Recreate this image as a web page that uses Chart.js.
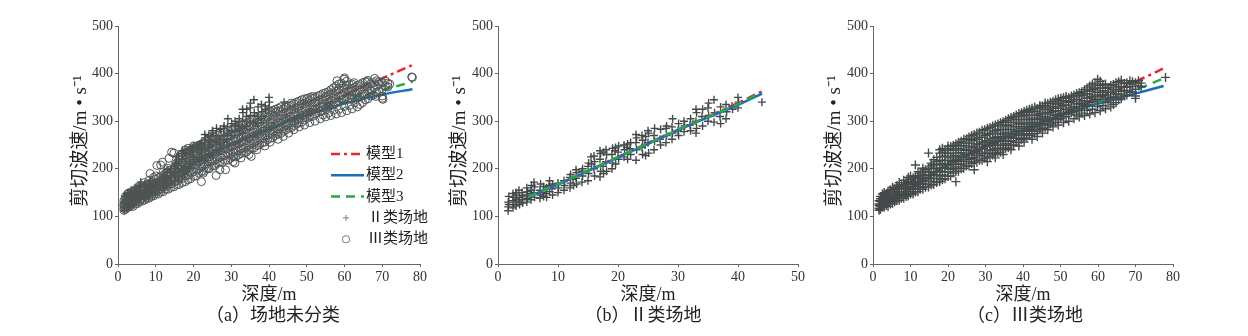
<!DOCTYPE html>
<html><head><meta charset="utf-8">
<script src="https://cdn.jsdelivr.net/npm/chart.js@4.4.1/dist/chart.umd.min.js"></script>
<style>
body{margin:0;background:#fff;width:1248px;height:336px;overflow:hidden;position:relative}
.p{position:absolute;top:0;height:336px}
</style></head><body>
<div class="p" style="left:0;width:440px"><canvas id="ca"></canvas></div>
<div class="p" style="left:440px;width:380px"><canvas id="cb"></canvas></div>
<div class="p" style="left:820px;width:428px"><canvas id="cc"></canvas></div>
<script>
// ---------- data ----------
const xTicksAC = [0,10,20,30,40,50,60,70,80];
const xTicksB = [0,10,20,30,40,50];
const yTicks = [0,100,200,300,400,500];

// model curves, panel (a)
const modelDepthA = [1.5,5,10,20,30,40,50,60,70,78];
const model1A = [145,158,177,212,247,282,318,354,390,418];
const model2A = [118,140,165,210,250,284,313,337,356,367];
const model3A = [120,143,168,212,252,287,318,342,365,383];
// model curves, panel (b)
const modelDepthB = [5,10,15,20,25,30,35,40,44];
const model1B = [141,168,196,225,254,282,310,338,363];
const model2B = [141,167,195,224,252,281,308,334,358];
const model3B = [141,168,196,225,253,282,309,336,361];
// model curves, panel (c)
const modelDepthC = [2,10,20,30,40,50,60,70,77.5];
const model1C = [146,174,208,243,277,313,348,383,411];
const model2C = [120,158,208,248,282,312,337,358,374];
const model3C = [122,160,210,250,285,316,341,366,390];

// site class II measurements [depth, Vs]
const siteII = [
[1.7,112],[1.7,120],[1.8,125],[1.7,130],[1.8,142],
[2.5,118],[2.6,125],[2.5,133],[2.6,140],[2.5,148],
[3.0,122],[3.1,130],[3.0,136],[3.1,145],[3.0,150],
[3.6,125],[3.5,132],[3.6,140],[3.5,155],
[4.1,128],[4.0,135],[4.1,143],[4.0,150],
[4.8,130],[4.9,138],[4.8,145],[4.9,152],[4.8,160],
[5.5,135],[5.6,148],[5.5,155],[5.6,165],
[6.1,140],[6.0,150],[6.1,162],[6.0,172],
[7.0,138],[7.1,145],[7.0,155],[7.1,168],
[7.6,142],[7.5,150],[7.6,163],
[8.1,140],[8.0,148],[8.1,160],
[8.6,152],[8.5,165],[8.6,175],
[9.1,145],[9.0,158],[9.1,168],
[10.0,150],[10.1,160],[10.0,170],
[11.0,155],[11.1,165],[11.0,175],
[12.0,160],[12.1,170],[12.0,182],[12.1,188],
[12.6,165],[12.5,178],
[13.1,168],[13.0,180],[13.1,192],[13.0,198],
[14.0,172],[14.1,185],[14.0,195],[14.1,200],
[15.0,175],[15.1,190],[15.0,205],[15.1,212],
[15.6,210],[15.5,225],
[16.1,185],[16.0,200],[16.1,215],[16.0,227],
[17.0,183],[17.1,195],[17.0,220],[17.1,232],[17.0,238],
[17.6,190],[17.5,205],[17.6,235],
[18.1,195],[18.0,215],[18.1,230],[18.0,240],
[19.0,200],[19.1,212],[19.0,230],[19.1,243],
[19.6,210],[19.5,238],[19.6,245],
[20.1,220],[20.0,235],[20.1,248],
[21.0,225],[21.1,240],[21.0,250],
[21.6,220],[21.5,245],[21.6,252],
[22.1,230],[22.0,242],[22.1,255],
[23.0,218],[23.1,240],[23.0,255],[23.1,265],[23.0,272],
[24.1,230],[24.0,245],[24.1,260],[24.0,270],
[24.6,228],[24.5,250],[24.6,268],
[25.1,233],[25.0,255],[25.1,275],[25.0,280],
[26.0,240],[26.1,258],[26.0,270],[26.1,285],
[27.1,250],[27.0,262],[27.1,283],
[28.0,255],[28.1,270],[28.0,285],[28.1,290],
[29.0,262],[29.1,275],[29.0,288],[29.1,305],
[30.1,270],[30.0,280],[30.1,295],
[31.0,278],[31.1,290],[31.0,300],
[32.1,280],[32.0,292],[32.1,305],
[33.0,275],[33.1,285],[33.0,300],[33.1,318],[33.0,325],
[34.1,290],[34.0,310],[34.1,325],
[35.0,300],[35.1,312],[35.0,328],[35.1,338],
[36.0,298],[36.1,318],[36.0,345],
[37.1,295],[37.0,310],[37.1,330],
[38.0,305],[38.1,320],[38.0,335],
[39.1,325],[39.0,332],
[40.0,328],[40.1,340],[40.0,350],
[44.0,340]
];

// site class III measurements: [depth, Vs, Vs, ...]
const siteIIIColumns = [
[1.6,113,117,123,126,133],
[2.0,115,121,124,131,137,142],
[2.5,119,122,129,134,138,147],
[3.0,120,127,130,138,144,150],
[3.5,123,127,135,141,146],
[4.0,121,128,132,140,146,153],
[4.6,126,130,138,142,151,156],
[5.2,127,135,141,146,156,161],
[5.8,131,136,145,150,159],
[6.4,133,138,147,152,161,165],
[7.0,134,143,148,157,162,171],
[7.6,138,143,152,157,166],
[8.2,138,147,152,161,167,176],
[8.8,142,148,157,162,171],
[9.4,143,152,157,167,173,182],
[10.0,147,152,162,168,178,185],
[10.7,147,157,163,171,181],
[11.3,151,157,167,174,184,208],
[12.0,152,162,168,179,186,194],
[12.6,157,163,173,180,191],
[13.3,157,168,175,186,194,201],
[14.0,161,168,179,187,198],
[14.8,162,173,181,193,201,233],
[15.5,166,174,186,194,206,212],
[16.2,167,179,188,200,209,219],
[17.0,171,180,193,202,215,224],
[17.8,173,185,195,208,218,233,240],
[18.5,177,187,201,211,225,235,243],
[19.2,179,193,203,217,227,239],
[20.0,184,194,208,218,232,242,248],
[20.7,185,199,209,223,233,247],
[21.4,191,201,215,225,239,249],
[22.1,173,194,204,218,228,242,252],
[22.8,195,209,219,233,243,255],
[23.5,200,210,224,234,248,258],
[24.2,201,215,225,239,249,262],
[24.9,206,216,230,240,254,263],
[25.6,206,220,230,244,254,267],
[26.3,211,221,235,245,259,270],
[27.0,198,214,224,238,248,262,272],
[27.7,214,228,238,252,262,275],
[28.4,218,228,242,252,266,277],
[29.1,218,232,242,256,266,281],
[29.8,222,232,246,256,270,282],
[30.5,215,225,235,249,259,273,285],
[31.2,225,239,249,263,273,287],
[31.9,229,239,253,263,277,290],
[32.6,223,232,242,256,266,280,292],
[33.3,234,244,258,268,282,294],
[34.0,235,249,259,273,283,297],
[34.7,230,240,250,264,274,288,299],
[35.4,243,253,267,277,291,302],
[36.1,244,258,268,282,292,305],
[36.8,240,249,259,273,283,297,308],
[37.5,250,264,274,288,298,310],
[38.2,255,265,279,289,303,313],
[38.9,248,256,270,280,294,304,316],
[39.6,261,271,285,295,309,318],
[40.3,256,264,274,288,298,312,321],
[41.0,265,279,289,303,313,323],
[41.7,270,280,294,304,318,325],
[42.4,262,273,283,297,307,321,327],
[43.1,274,288,298,312,321,330],
[43.8,268,279,289,303,313,326],
[44.5,282,292,306,316,329,333],
[45.2,275,285,295,309,319,332],
[45.9,286,300,310,324,333,338],
[46.6,282,291,301,315,325,337],
[47.3,294,304,318,328,340],
[48.0,288,297,307,321,331,342],
[48.7,298,312,322,336,345],
[49.4,292,303,313,327,337,347],
[50.1,306,316,330,340,348],
[50.8,297,309,319,333,343,350],
[51.5,310,324,334,348,352],
[52.2,300,315,325,339,350],
[52.9,318,328,342,353],
[53.6,305,321,331,345,355],
[54.3,313,322,336,346,358],
[55.0,309,327,337,351,360],
[55.7,317,330,340,354,362],
[56.4,312,333,343,357,366],
[57.1,323,334,348,358,370],
[57.8,315,339,349,363,374],
[58.5,325,342,352,366,378],
[59.2,318,345,355,369,380],
[59.9,331,346,360,370,388],
[60.6,322,351,361,375,384],
[61.3,333,354,364,377],
[62.0,326,346,355,369,378],
[62.7,339,349,360,371],
[63.4,330,349,361,375],
[64.1,335,351,366,377],
[64.8,339,357,367,381],
[65.5,345,357,372,383],
[66.2,347,363,373,386],
[67.0,353,365,379],
[67.7,355,371,381],
[68.5,361,373,385],
[69.2,362,378,383],
[70.0,348,353,367,381],
[70.8,374,385],
[71.5,372,380],
[78.0,392]
];

// extra class III points visible only in the unclassified panel (a)
const siteIIIExtraA = [
[8.5,190],[10.3,207],[11.8,214],[13.5,222],[14.2,235],[16.5,228],[19.0,232],
[22.6,191],[24.0,200],[26.0,186],[28.5,198],[35.3,226],[31.0,212],
[58.0,385],[60.0,391],[62.5,381],[66.0,383],[68.0,390],[70.2,346],[68.3,352],[72.0,378],[77.8,393]
];

// ---------- helpers ----------
const pts = arr => arr.map(p => ({x:p[0], y:p[1]}));
const colPts = cols => { const o=[]; cols.forEach(c => { for (let i=1;i<c.length;i++) o.push({x:c[0], y:c[i]}); }); return o; };
const curve = (d, v) => d.map((x,i) => ({x, y:v[i]}));

const RED='#e8262b', BLUE='#1c6ebd', GREEN='#24a84a', PT='#444a4a', CIRC='#4f5555';
const DASH1=[9,4,3,4], DASH3=[9,6];
const SERIF='"Liberation Serif","Times New Roman",serif';
const CJK='"Liberation Serif","Noto Sans CJK SC",serif';

function lineDs(label, data, color, dash, order){
  return {type:'line', label, data, borderColor:color, borderWidth:2.5, borderDash:dash,
    pointRadius:0, fill:false, tension:0.3, order};
}
function plusDs(label, data, order, r){
  return {type:'scatter', label, data, pointStyle:'cross', pointRadius:r||4, borderColor:PT,
    borderWidth:1.4, backgroundColor:PT, order};
}
function circDs(label, data, order){
  return {type:'scatter', label, data, pointStyle:'circle', pointRadius:4, borderColor:CIRC,
    borderWidth:1, backgroundColor:'rgba(0,0,0,0)', order};
}

const deco = {
  id:'deco',
  afterDraw(chart, args, o){
    const ctx = chart.ctx, ca = chart.chartArea;
    ctx.save();
    ctx.fillStyle='#222';
    // y title
    ctx.save();
    ctx.translate(o.yTitleX, (ca.top+ca.bottom)/2 - 4);
    ctx.rotate(-Math.PI/2);
    ctx.font = '19px '+CJK;
    ctx.textAlign='center'; ctx.textBaseline='middle';
    ctx.fillText('剪切波速/m • s⁻¹', 0, 0);
    ctx.restore();
    // x title and caption
    ctx.font='18px '+CJK; ctx.textAlign='center'; ctx.textBaseline='middle';
    ctx.fillText('深度/m', (ca.left+ca.right)/2, 295);
    ctx.fillText(o.caption, (ca.left+ca.right)/2 + o.capDx, 316);
    // legend
    ctx.font='15px '+CJK; ctx.textAlign='left';
    o.legend.forEach((r,i) => {
      const y = o.legY + i*21.3;
      const x0 = o.legX;
      if (r.kind==='line'){
        ctx.save(); ctx.strokeStyle=r.color; ctx.lineWidth=2.5; ctx.setLineDash(r.dash||[]);
        ctx.beginPath(); ctx.moveTo(x0, y); ctx.lineTo(x0+33, y); ctx.stroke(); ctx.restore();
        ctx.fillText(r.text, x0+35, y);
      } else {
        ctx.save(); ctx.strokeStyle='#8a8f8f'; ctx.lineWidth=1.1;
        const cx = x0+15;
        ctx.beginPath();
        if (r.kind==='plus'){ ctx.moveTo(cx-3,y); ctx.lineTo(cx+3,y); ctx.moveTo(cx,y-3); ctx.lineTo(cx,y+3); }
        else { ctx.arc(cx, y, 3.5, 0, Math.PI*2); }
        ctx.stroke(); ctx.restore();
        ctx.fillText(r.text, x0+37, y);
      }
    });
    ctx.restore();
  }
};

function scales(xmax, xticks){
  const common = {
    grid:{drawOnChartArea:false, drawTicks:true, tickLength:3, color:'#666', lineWidth:1},
    border:{display:true, color:'#666', width:1},
  };
  return {
    x:{type:'linear', min:0, max:xmax, ...common,
      afterBuildTicks: s => { s.ticks = xticks.map(v=>({value:v})); },
      ticks:{font:{family:SERIF, size:14}, color:'#333', padding:2, maxRotation:0, autoSkip:false},
      afterFit: s => { s.height = 72; s.paddingLeft=0; s.paddingRight=0; s.paddingTop=0; s.paddingBottom=0; }
    },
    y:{type:'linear', min:0, max:500, ...common,
      afterBuildTicks: s => { s.ticks = yTicks.map(v=>({value:v})); },
      ticks:{font:{family:SERIF, size:14}, color:'#333', padding:2, autoSkip:false},
      afterFit: s => { s.width = 40; s.paddingTop=0; s.paddingBottom=0; s.paddingLeft=0; s.paddingRight=0; }
    }
  };
}

function make(id, datasets, xmax, xticks, padL, padR, decoOpts){
  new Chart(document.getElementById(id), {
    type:'scatter',
    data:{datasets},
    options:{
      responsive:true, maintainAspectRatio:false, animation:false, devicePixelRatio:1,
      layout:{padding:{left:padL, right:padR, top:26, bottom:0}},
      plugins:{legend:{display:false}, tooltip:{enabled:false}, deco:decoOpts},
      scales:scales(xmax, xticks)
    },
    plugins:[deco]
  });
}

const lgLines = [
  {kind:'line', color:RED, dash:DASH1, text:'模型1'},
  {kind:'line', color:BLUE, dash:[], text:'模型2'},
  {kind:'line', color:GREEN, dash:DASH3, text:'模型3'}
];

// panel (a)
make('ca', [
  plusDs('Ⅱ类场地', pts(siteII), 2),
  circDs('Ⅲ类场地', colPts(siteIIIColumns).concat(pts(siteIIIExtraA)), 1),
  lineDs('模型1', curve(modelDepthA, model1A), RED, DASH1, 5),
  lineDs('模型2', curve(modelDepthA, model2A), BLUE, [], 4),
  lineDs('模型3', curve(modelDepthA, model3A), GREEN, DASH3, 3)
], 80, xTicksAC, 78, 20, {
  yTitleX:81, caption:'（a）场地未分类', capDx:4, legX:331, legY:154,
  legend: lgLines.concat([{kind:'plus', text:'Ⅱ类场地'},{kind:'circ', text:'Ⅲ类场地'}])
});

// panel (b)
make('cb', [
  lineDs('模型1', curve(modelDepthB, model1B), RED, DASH1, 3),
  lineDs('模型2', curve(modelDepthB, model2B), BLUE, [], 2),
  lineDs('模型3', curve(modelDepthB, model3B), GREEN, DASH3, 1),
  plusDs('Ⅱ类场地', pts(siteII), 5)
], 50, xTicksB, 18, 22, {
  yTitleX:20, caption:'（b）Ⅱ类场地', capDx:-5, legX:717, legY:172, legend: lgLines.concat([{kind:'plus', text:'Ⅱ类场地'}])
});

// panel (c)
make('cc', [
  plusDs('Ⅲ类场地', colPts(siteIIIColumns), 1, 4.5),
  lineDs('模型1', curve(modelDepthC, model1C), RED, DASH1, 5),
  lineDs('模型2', curve(modelDepthC, model2C), BLUE, [], 4),
  lineDs('模型3', curve(modelDepthC, model3C), GREEN, DASH3, 3)
], 80, xTicksAC, 13, 75, {
  yTitleX:15, caption:'（c）Ⅲ类场地', capDx:2, legX:1095, legY:173, legend: lgLines.concat([{kind:'plus', text:'Ⅲ类场地'}])
});
</script>
</body></html>
